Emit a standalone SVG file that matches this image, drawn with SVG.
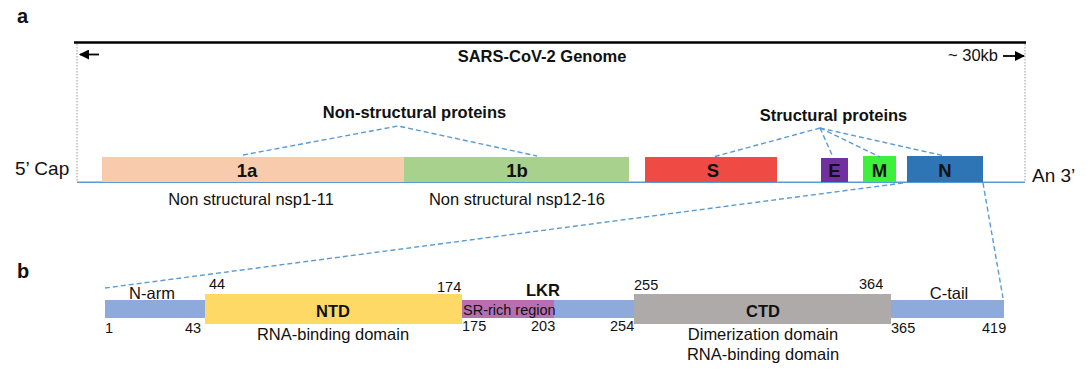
<svg xmlns="http://www.w3.org/2000/svg" width="1091" height="380" viewBox="0 0 1091 380">
<style>
text{font-family:"Liberation Sans",Arial,sans-serif;fill:#111}
.b{font-weight:bold}
.lg{font-size:16.5px}
.bar{font-size:18.5px}
.num{font-size:14.5px}
.dash{stroke:#5b9bd5;stroke-width:1.4;stroke-dasharray:5,3;fill:none}
.dot{stroke:#999;stroke-width:1;stroke-dasharray:1.5,1.5;fill:none}
.mid{text-anchor:middle}
</style>
<defs>
<marker id="ah" viewBox="0 0 10 10" refX="9" refY="5" markerWidth="10" markerHeight="10" markerUnits="userSpaceOnUse" orient="auto">
<path d="M0,0 L10,5 L0,10 z" fill="#000"/>
</marker>
</defs>
<rect width="1091" height="380" fill="#fff"/>
<text x="17" y="23" class="b" style="font-size:20px">a</text>
<text x="17" y="278" class="b" style="font-size:20px">b</text>
<g id="genome">
<line x1="74" y1="42.5" x2="1026" y2="42.5" stroke="#000" stroke-width="2.6"/>
<line x1="77" y1="44" x2="77" y2="182" class="dot"/>
<line x1="1025" y1="44" x2="1025" y2="182" class="dot"/>
<line x1="99" y1="54.5" x2="80" y2="54.5" stroke="#000" stroke-width="1.8" marker-end="url(#ah)"/>
<line x1="1003" y1="56" x2="1024" y2="56" stroke="#000" stroke-width="1.8" marker-end="url(#ah)"/>
<text x="542" y="61.5" class="b lg mid">SARS-CoV-2 Genome</text>
<text x="948" y="61" class="lg">~ 30kb</text>
<line x1="77" y1="182.3" x2="1025" y2="182.3" stroke="#5b9bd5" stroke-width="1.6"/>
<text x="15" y="175" style="font-size:19px">5’ Cap</text>
<text x="1032" y="182" style="font-size:19px">An 3’</text>
<text x="414.5" y="118" class="b lg mid">Non-structural proteins</text>
<text x="833.5" y="121" class="b lg mid">Structural proteins</text>
</g>
<g id="n-1a"><rect x="102" y="157" width="302" height="25" fill="#f8cbad"/><text x="247" y="176.5" class="b bar mid">1a</text>
<text x="251" y="205" class="lg mid">Non structural nsp1-11</text></g>
<g id="n-1b"><rect x="404" y="157" width="225" height="25" fill="#a9d18e"/><text x="517" y="176.5" class="b bar mid">1b</text>
<text x="517" y="205" class="lg mid">Non structural nsp12-16</text></g>
<g id="n-S"><rect x="645" y="157" width="132" height="25" fill="#ef4a44"/><text x="713" y="177" class="b bar mid">S</text></g>
<g id="n-E"><rect x="821" y="158" width="27" height="24" fill="#7030a0"/><text x="834.5" y="177" class="b bar mid">E</text></g>
<g id="n-M"><rect x="863" y="156" width="33" height="26" fill="#3cf03c"/><text x="879.5" y="177" class="b bar mid">M</text></g>
<g id="n-N"><rect x="907" y="156" width="76" height="26" fill="#2e75b6"/><text x="945" y="177" class="b bar mid">N</text></g>
<g id="connectors">
<polyline points="243,155 398,126 537,156" class="dash"/>
<line x1="820" y1="128" x2="713" y2="157" class="dash"/>
<line x1="820" y1="128" x2="833" y2="157" class="dash"/>
<line x1="820" y1="128" x2="880" y2="157" class="dash"/>
<line x1="820" y1="128" x2="945" y2="156" class="dash"/>
<line x1="903" y1="183" x2="105" y2="288" class="dash"/>
<line x1="983" y1="183" x2="1003" y2="298" class="dash"/>
</g>
<g id="n-narm"><rect x="105" y="300" width="100" height="18" fill="#8eaadb"/>
<text x="152" y="298.5" class="lg mid">N-arm</text>
<text x="105" y="333" class="num">1</text><text x="185" y="333" class="num">43</text></g>
<g id="n-ntd"><rect x="205" y="294" width="257" height="30" fill="#ffd966"/>
<text x="333" y="317" class="b lg mid">NTD</text>
<text x="333" y="340" class="lg mid">RNA-binding domain</text>
<text x="209" y="289" class="num">44</text><text x="437" y="292" class="num">174</text></g>
<g id="n-lkr"><rect x="462" y="300" width="92" height="18" fill="#b86fb2"/><rect x="554" y="300" width="80" height="18" fill="#8eaadb"/>
<text x="463" y="315" class="num">SR-rich region</text>
<text x="543" y="296" class="b lg mid">LKR</text>
<text x="462" y="331" class="num">175</text><text x="531" y="331" class="num">203</text><text x="610" y="331" class="num">254</text></g>
<g id="n-ctd"><rect x="634" y="294" width="257" height="30" fill="#aeaaaa"/>
<text x="763" y="317" class="b lg mid">CTD</text>
<text x="763" y="340" class="lg mid">Dimerization domain</text>
<text x="763" y="360" class="lg mid">RNA-binding domain</text>
<text x="634" y="290" class="num">255</text><text x="859" y="289" class="num">364</text></g>
<g id="n-ctail"><rect x="891" y="300" width="113" height="18" fill="#8eaadb"/>
<text x="949" y="299" class="lg mid">C-tail</text>
<text x="891" y="333" class="num">365</text><text x="982" y="333" class="num">419</text></g>
</svg>
